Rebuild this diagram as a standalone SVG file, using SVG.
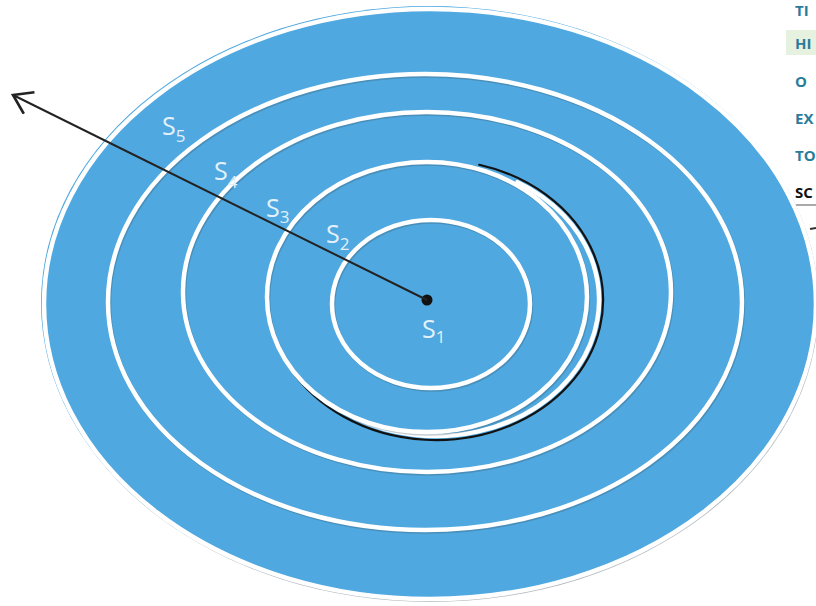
<svg xmlns="http://www.w3.org/2000/svg" width="816" height="606" viewBox="0 0 816 606">
<defs>
<style>
.ring{fill:none;stroke:#ffffff;stroke-width:4.5}
.shade{fill:none;stroke:#3a5566;stroke-opacity:0.3;stroke-width:4.5}
.lbl{font-family:"Open Sans","Noto Sans",sans-serif;font-size:25px;fill:#e3f1fb}
.sub{font-size:17px}
.side{font-family:"Open Sans","Noto Sans",sans-serif;font-size:15px;font-weight:700;fill:#2a7c9c}
.conn{fill:none;stroke:#222;stroke-width:2}
</style>
<marker id="chev" viewBox="0 -1 26 26" refX="22" refY="12" markerWidth="26" markerHeight="26" markerUnits="userSpaceOnUse" orient="auto">
<path d="M4,0 L22,12 L4,24" fill="none" stroke="#222" stroke-width="2.6" stroke-linejoin="miter"/>
</marker>
</defs>
<rect width="816" height="606" fill="#ffffff"/>

<g id="side-text">
<rect x="786" y="30" width="30" height="25" fill="#e6f2df"/>
<text class="side" x="795" y="16">TI</text>
<text class="side" x="795" y="49">HI</text>
<text class="side" x="795" y="87">O</text>
<text class="side" x="795" y="124">EX</text>
<text class="side" x="795" y="161">TO</text>
<text class="side" x="795" y="198" style="fill:#111">SC</text>
<line x1="790" y1="205" x2="816" y2="205" stroke="#555" stroke-width="1"/>
<line x1="810" y1="229" x2="816" y2="228" stroke="#333" stroke-width="2"/>
</g>

<g id="zone-s5">
<ellipse cx="430.5" cy="305" rx="388" ry="297" fill="#6f7f88" fill-opacity="0.55"/>
<ellipse cx="429" cy="303" rx="388" ry="297" fill="#4fa8df"/>
<ellipse cx="430" cy="304" rx="386" ry="295" class="ring" stroke-width="3"/>
</g>

<g id="zone-s1">
<ellipse cx="432" cy="305.5" rx="99" ry="84" class="shade"/>
<ellipse cx="431" cy="304" rx="99" ry="84" class="ring"/>
<circle cx="427" cy="300" r="5.5" fill="#111"/>
<text class="lbl" x="422" y="338">S<tspan class="sub" dy="5">1</tspan></text>
</g>

<g id="zone-s2">
<path d="M479.2,164.8 A167,140 0 1 1 291.4,370" fill="none" stroke="#111" stroke-width="2.2" stroke-linecap="round"/>
<path d="M517.5,182.2 A163,136 0 1 1 354.5,417.8" class="ring" stroke-width="4" stroke-linecap="round"/>
<ellipse cx="428" cy="298.5" rx="160" ry="135" class="shade"/>
<ellipse cx="427" cy="297" rx="160" ry="135" class="ring"/>
<text class="lbl" x="326" y="243">S<tspan class="sub" dy="7">2</tspan></text>
</g>

<g id="zone-s3">
<ellipse cx="428" cy="293.5" rx="244" ry="180" class="shade"/>
<ellipse cx="427" cy="292" rx="244" ry="180" class="ring"/>
<text class="lbl" x="266" y="217">S<tspan class="sub" dy="6">3</tspan></text>
</g>

<g id="zone-s4">
<ellipse cx="426" cy="303.5" rx="317" ry="228" class="shade"/>
<ellipse cx="425" cy="302" rx="317" ry="228" class="ring"/>
<text class="lbl" x="214" y="180">S<tspan class="sub" dy="8">4</tspan></text>
</g>

<g id="zone-s5-label">
<text class="lbl" x="162" y="135">S<tspan class="sub" dy="7">5</tspan></text>
</g>

<g id="connectors">
<path class="conn" d="M427,300 L13,95" marker-end="url(#chev)"/>
</g>
</svg>
